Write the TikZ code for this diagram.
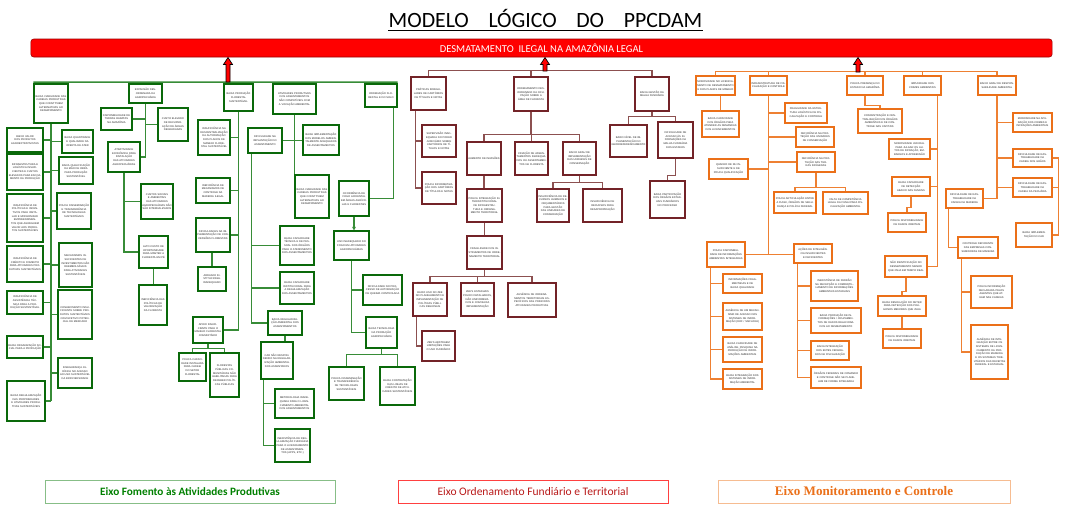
\documentclass[tikz,border=0pt]{standalone}
\usepackage{fontspec}
\setmainfont{Liberation Sans}
\newfontfamily\boxff{Liberation Sans}
\newfontfamily\calff{Carlito}
\newfontfamily\serff{Liberation Serif}
\usetikzlibrary{shadows,calc,arrows.meta}
\pgfdeclarelayer{bg}
\pgfdeclarelayer{paper}
\pgfsetlayers{paper,bg,main}
\definecolor{gdark}{RGB}{10,105,10}
\definecolor{glight}{RGB}{135,190,135}
\definecolor{gline}{RGB}{55,140,55}
\definecolor{rdark}{RGB}{115,35,40}
\definecolor{rlight}{RGB}{195,155,155}
\definecolor{rline}{RGB}{140,80,80}
\definecolor{odark}{RGB}{235,112,25}
\definecolor{olight}{RGB}{246,188,145}
\definecolor{oline}{RGB}{238,128,50}
\definecolor{gtext}{RGB}{0,128,0}
\definecolor{rtext}{RGB}{185,25,25}
\newcommand{\boxfont}{\boxff\fontsize{1.85}{2.6}\selectfont}
\newcommand{\bx}[7]{%
  \pgfmathsetmacro{\bxw}{(#5-#3)*0.025}%
  \pgfmathsetmacro{\bxh}{(#6-#4)*0.025}%
  \pgfmathsetmacro{\bxt}{(#5-#3-2.5)*0.025}%
  \node[#1, minimum width=\bxw cm, minimum height=\bxh cm, text width=\bxt cm] (#2) at ({(#3+#5)/2},{(#4+#6)/2}) {#7};%
}
\newcommand{\uparr}[3]{%
  \draw[fill=red, draw=black, line width=0.5pt, line join=miter] ({#1-2},{#2}) -- ({#1-2},{#3+7}) -- ({#1-4.5},{#3+7}) -- ({#1},{#3}) -- ({#1+4.5},{#3+7}) -- ({#1+2},{#3+7}) -- ({#1+2},{#2}) -- cycle;%
}
\tikzset{
  bxbase/.style={inner sep=0pt, align=center, font=\boxfont, text=black!85, fill=white, line width=0.8pt},
  gb/.style={bxbase, draw=gdark, drop shadow={shadow xshift=0.9pt, shadow yshift=-0.9pt, fill=glight, opacity=1}},
  rb/.style={bxbase, draw=rdark, drop shadow={shadow xshift=0.9pt, shadow yshift=-0.9pt, fill=rlight, opacity=1}},
  ob/.style={bxbase, draw=odark, drop shadow={shadow xshift=0.9pt, shadow yshift=-0.9pt, fill=olight, opacity=1}},
  gl/.style={draw=gline, line width=1pt},
  rl/.style={draw=rline, line width=1pt},
  ol/.style={draw=oline, line width=1pt},
}
\begin{document}
\begin{tikzpicture}[x=0.025cm,y=-0.025cm]
\begin{pgfonlayer}{paper}
\fill[white] (0,0) rectangle (1067,516);
\end{pgfonlayer}
\useasboundingbox (0,0) rectangle (1067,516);

% title and bar
\node[inner sep=0pt, anchor=base] (title) at (545.5,27) {\calff\fontsize{15.5}{18}\selectfont MODELO\hspace{0.9em}LÓGICO\hspace{0.9em}DO\hspace{0.9em}PPCDAM};
\draw[line width=0.8pt] ([yshift=-2.6pt]title.base west) -- ([yshift=-2.6pt]title.base east);
\node[fill=red, draw=red!60!black, line width=0.4pt, rounded corners=2pt, minimum width=25.525cm, minimum height=0.45cm, inner sep=0pt, text=white, font=\calff\fontsize{7.5}{9}\selectfont] (bar) at (541.5,48) {DESMATAMENTO\ \ ILEGAL NA AMAZÔNIA LEGAL};

% ================= GREEN =================
\bx{gb}{G1}{34}{84}{68}{123}{BAIXA VIABILIDADE DAS CADEIAS PRODUTIVAS QUE CONSTITUEM ALTERNATIVAS AO DESMATAMENTO}
\bx{gb}{GL1}{7}{128}{43}{152}{BAIXO VALOR DOS PRODUTOS AGROEXTRATIVISTAS}
\bx{gb}{GL2}{7}{154}{43}{190}{INFRAESTRUTURA E LOGÍSTICA INSUFICIENTES E CUSTOS ELEVADOS PARA ESCOAMENTO DA PRODUÇÃO}
\bx{gb}{GL3}{7}{194}{43}{242}{INSUFICIÊNCIA DE POLÍTICAS E INCENTIVOS PARA INSTALAR E MODERNIZAR EMPREENDIMENTOS QUE AGREGUEM VALOR AOS PRODUTOS SUSTENTÁVEIS}
\bx{gb}{GL4}{7}{246}{43}{282}{INSUFICIÊNCIA DE CRÉDITO E FOMENTO PARA ATIVIDADES PRODUTIVAS SUSTENTÁVEIS}
\bx{gb}{GL5}{7}{291}{43}{314}{INSUFICIÊNCIA DE ASSISTÊNCIA TÉCNICA PARA A PRODUÇÃO SUSTENTÁVEL}
\bx{gb}{GL6}{7}{336}{43}{358}{BAIXA ORGANIZAÇÃO SOCIAL PARA A PRODUÇÃO}
\bx{gb}{GL7}{7}{381}{45}{421}{BAIXA REGULARIZAÇÃO DAS PROPRIEDADES E ATIVIDADES PRODUTIVAS SUSTENTÁVEIS}
\bx{gb}{GR1}{62}{130}{93}{153}{BAIXA QUANTIDADE E QUALIDADE NA OFERTA DE ATER}
\bx{gb}{GR2}{59}{157}{93}{184}{BAIXA QUALIFICAÇÃO DA MÃO DE OBRA PARA PRODUÇÃO SUSTENTÁVEL}
\bx{gb}{GR3}{57}{193}{91}{229}{POUCA DISSEMINAÇÃO E TRANSFERÊNCIA DE TECNOLOGIAS SUSTENTÁVEIS}
\bx{gb}{GR4}{59}{243}{92}{287}{MECANISMOS INSUFICIENTES DE INVESTIMENTOS NÃO REEMBOLSÁVEIS PARA ATIVIDADES SUSTENTÁVEIS}
\bx{gb}{GR5}{58}{290}{92}{339}{CONHECIMENTO INSUFICIENTE SOBRE PRODUTOS SUSTENTÁVEIS COM EFETIVO POTENCIAL DE MERCADO}
\bx{gb}{GR6}{58}{358}{92}{388}{INSEGURANÇA JURÍDICA NO ACESSO AO USO SUSTENTÁVEL DA BIODIVERSIDADE}

\bx{gb}{G2}{129}{84}{162}{103}{EXPANSÃO DESORDENADA DA AGROPECUÁRIA}
\bx{gb}{G2a}{101}{108}{132}{130}{DISPONIBILIDADE DE TERRAS BARATAS NA AMAZÔNIA}
\bx{gb}{G2b}{158}{108}{188}{141}{CUSTO ELEVADO DE RECUPERAÇÃO DE ÁREAS DEGRADADAS}
\bx{gb}{G2c}{108}{142}{140}{172}{ATRATIVIDADE ECONÔMICA PARA INSTALAÇÃO DAS ATIVIDADES AGROPECUÁRIAS}
\bx{gb}{G2d}{141}{184}{173}{219}{CUSTOS SOCIAIS E AMBIENTAIS DAS ATIVIDADES AGROPECUÁRIAS NÃO SÃO INTERNALIZADOS}
\bx{gb}{G2e}{139}{236}{168}{268}{ALTO CUSTO DE OPORTUNIDADE PARA MANTER A FLORESTA EM PÉ}
\bx{gb}{G2f}{139}{285}{167}{325}{INEFICIÊNCIA DAS POLÍTICAS DE VALORIZAÇÃO DA FLORESTA}

\bx{gb}{G3}{224}{84}{253}{111}{BAIXA PRODUÇÃO FLORESTAL SUSTENTÁVEL}
\bx{gb}{G3a}{198}{120}{230}{155}{INSUFICIÊNCIA NA DESCENTRALIZAÇÃO DA AUTORIZAÇÃO DOS PLANOS DE MANEJO FLORESTAL SUSTENTÁVEL}
\bx{gb}{G3b}{196}{178}{230}{203}{INEFICIÊNCIA DE MECANISMOS DE CONTROLE DA MADEIRA ILEGAL}
\bx{gb}{G3c}{196}{218}{230}{252}{DIFICULDADES NA IMPLEMENTAÇÃO DE CONCESSÕES FLORESTAIS}
\bx{gb}{G3d}{198}{267}{226}{291}{ARRANJO INSTITUCIONAL INADEQUADO}
\bx{gb}{G3e}{193}{317}{223}{343}{APOIO INSUFICIENTE PARA O MANEJO FLORESTAL COMUNITÁRIO}
\bx{gb}{G3f}{179}{353}{206}{381}{POUCA CAPACIDADE INSTALADA PARA CADEIA DO SETOR FLORESTAL}
\bx{gb}{G3g}{210}{353}{239}{397}{FLORESTAS PÚBLICAS COMUNITÁRIAS NÃO HABILITADAS PARA RECEBER POLÍTICAS PÚBLICAS}

\bx{gb}{G4}{273}{84}{316}{114}{ATIVIDADES PRODUTIVAS DOS ASSENTAMENTOS NÃO COMPATÍVEIS COM A VOCAÇÃO AMBIENTAL}
\bx{gb}{G4a}{248}{128}{282}{153}{DIFICULDADE NA IMPLANTAÇÃO DO ASSENTAMENTO}
\bx{gb}{G4b}{303}{125}{339}{155}{BAIXA IMPLEMENTAÇÃO DOS MODELOS AMBIENTALMENTE ADEQUADOS DE ASSENTAMENTOS}
\bx{gb}{G4c}{295}{175}{329}{218}{BAIXA VIABILIDADE DAS CADEIAS PRODUTIVAS QUE CONSTITUEM ALTERNATIVAS AO DESMATAMENTO}
\bx{gb}{G4d}{280}{226}{314}{265}{BAIXA CAPACIDADE TÉCNICA E DE PESSOAL DOS ÓRGÃOS PARA O ATENDIMENTO DOS ASSENTAMENTOS}
\bx{gb}{G4e}{280}{272}{314}{304}{BAIXA CAPACIDADE INSTITUCIONAL PARA A REGULARIZAÇÃO DOS ASSENTAMENTOS}
\bx{gb}{G4f}{268}{311}{302}{335}{BAIXA REGULARIZAÇÃO AMBIENTAL DOS ASSENTAMENTOS}
\bx{gb}{G4g}{261}{342}{293}{379}{CAR NÃO RESPONDENDO NA REGULARIZAÇÃO AMBIENTAL DOS ASSENTADOS}
\bx{gb}{G4h}{275}{389}{314}{418}{METODOLOGIA INADEQUADA PARA O LICENCIAMENTO AMBIENTAL DOS ASSENTAMENTOS}
\bx{gb}{G4i}{275}{429}{310}{462}{INEXISTÊNCIA DE REGULARIZAÇÃO FUNDIÁRIA PARA O LICENCIAMENTO DE ASSENTAMENTOS (APPS, ETC.)}

\bx{gb}{G5}{365}{84}{397}{107}{ORDENAÇÃO FLORESTAL E DO SOLO}
\bx{gb}{G5a}{339}{181}{369}{216}{OCORRÊNCIA DE FOGO ACIDENTAL EM ÁREAS AGRÍCOLAS E FLORESTAIS}
\bx{gb}{G5b}{334}{231}{369}{260}{USO INADEQUADO DO FOGO EM ATIVIDADES AGROPECUÁRIAS}
\bx{gb}{G5c}{363}{275}{402}{305}{DIFICULDADE NO PROCESSO DE AUTORIZAÇÃO DE QUEIMA CONTROLADA}
\bx{gb}{G5d}{366}{317}{397}{348}{BAIXA TECNOLOGIA NA PRODUÇÃO AGROPECUÁRIA}
\bx{gb}{G5e}{329}{367}{364}{400}{POUCA DISSEMINAÇÃO E TRANSFERÊNCIA DE TECNOLOGIAS SUSTENTÁVEIS}
\bx{gb}{G5f}{380}{367}{415}{405}{BAIXA CONTRATAÇÃO DAS LINHAS DE CRÉDITO DE ATIVIDADES SUSTENTÁVEIS}

% ================= RED =================
\bx{rb}{R1}{411}{77}{446}{110}{PRÁTICAS IRREGULARES DE CARTÓRIOS DE TÍTULOS E NOTAS}
\bx{rb}{R1a}{422}{125}{456}{157}{SUPERVISÃO INADEQUADA DO PODER JUDICIÁRIO SOBRE CARTÓRIOS DE TÍTULOS E NOTAS}
\bx{rb}{R1b}{422}{172}{456}{204}{POUCA INFORMATIZAÇÃO DOS CARTÓRIOS DE TÍTULOS E NOTAS}
\bx{rb}{R2}{514}{77}{548}{111}{ORDENAMENTO DESORDENADO DA OCUPAÇÃO SOBRE A ÁREA DE FLORESTA}
\bx{rb}{R2a}{467}{142}{501}{175}{AUMENTO DE INVASÕES}
\bx{rb}{R2b}{515}{142}{548}{175}{CRIAÇÃO DE ASSENTAMENTOS INADEQUADOS OU ASSENTAMENTOS NA FLORESTA}
\bx{rb}{R2c}{563}{142}{596}{175}{BAIXO GRAU DE IMPLEMENTAÇÃO DAS UNIDADES DE CONSERVAÇÃO}
\bx{rb}{R2d}{467}{189}{502}{222}{POUCA INTEGRAÇÃO INTERINSTITUCIONAL DE INFRAESTRUTURA E ORDENAMENTO TERRITORIAL}
\bx{rb}{R2e}{467}{236}{502}{269}{FRAGILIDADE DOS INSTRUMENTOS DE ORDENAMENTO TERRITORIAL}
\bx{rb}{R2f}{413}{283}{447}{316}{BAIXO USO DO ZEE NO PLANEJAMENTO E IMPLEMENTAÇÃO DE POLÍTICAS PÚBLICAS REGIONAIS}
\bx{rb}{R2g}{461}{283}{494}{316}{ZEE'S ESTADUAIS POUCO DETALHADOS, NÃO UNIFORMIZADOS E COM BAIXA IMPLEMENTAÇÃO}
\bx{rb}{R2h}{508}{283}{556}{317}{AUSÊNCIA DE ORDENAMENTOS TERRITORIAIS ESPECÍFICOS DAS PRINCIPAIS ATIVIDADES PRODUTIVAS}
\bx{rb}{R2i}{422}{331}{455}{361}{ZEE'S ABSTRAEM LIMITAÇÕES PARA O USO FUNDIÁRIO}
\bx{rb}{R2j}{537}{189}{569}{222}{INSUFICIÊNCIA DE RECURSOS HUMANOS E ORÇAMENTÁRIOS PARA GESTÃO DAS UNIDADES DE CONSERVAÇÃO}
\bx{rb}{R2k}{583}{189}{622}{222}{INSUFICIÊNCIA DE RECURSOS PARA DESAPROPRIAÇÃO}
\bx{rb}{R3}{635}{77}{669}{111}{BAIXA GESTÃO DA MALHA FUNDIÁRIA}
\bx{rb}{R3a}{610}{125}{647}{157}{BAIXO NÍVEL DE IMPLEMENTAÇÃO DO GEORREFERENCIAMENTO}
\bx{rb}{R3b}{658}{122}{693}{158}{DIFICULDADE DE ACESSO ÀS INFORMAÇÕES DA MALHA FUNDIÁRIA DOS ESTADOS}
\bx{rb}{R3c}{650}{181}{685}{218}{BAIXA PARTICIPAÇÃO DOS ÓRGÃOS ESTADUAIS FUNDIÁRIOS NO PROCESSO}

% ================= ORANGE =================
\bx{ob}{O1}{696}{76}{735}{95}{MOROSIDADE NO LICENCIAMENTO DE DESMATAMENTO E DOS PLANOS DE MANEJO}
\bx{ob}{O1a}{702}{111}{739}{137}{BAIXA CAPACIDADE DOS ÓRGÃOS PARA ATENDER AS DEMANDAS DOS LICENCIAMENTOS}
\bx{ob}{O2}{750}{76}{787}{95}{INFRAESTRUTURA DE FISCALIZAÇÃO E CONTROLE}
\bx{ob}{O2a}{785}{103}{827}{123}{FRAGILIDADE DA ESTRUTURA LOGÍSTICA DE FISCALIZAÇÃO E CONTROLE}
\bx{ob}{O2b}{796}{127}{834}{147}{DEFICIÊNCIA NA PROTEÇÃO DAS UNIDADES DE CONSERVAÇÃO}
\bx{ob}{O2c}{797}{152}{835}{172}{DEFICIÊNCIA NA PROTEÇÃO DAS TERRAS INDÍGENAS}
\bx{ob}{O2d}{709}{159}{748}{179}{QUADRO DE RH INSUFICIENTE E DE POUCA QUALIFICAÇÃO}
\bx{ob}{O2e}{774}{192}{816}{213}{POUCA ARTICULAÇÃO ENTRE A FUNAI, ÓRGÃOS DE SEGURANÇA E POLÍCIA FEDERAL}
\bx{ob}{O2f}{823}{192}{868}{214}{FALTA DE COMPETÊNCIA LEGAL DA FUNAI PARA FISCALIZAÇÃO AMBIENTAL}
\bx{ob}{O2g}{707}{242}{745}{267}{POUCA DISPONIBILIDADE DE INFORMAÇÕES AMBIENTAIS INTEGRADAS}
\bx{ob}{O2h}{794}{244}{832}{263}{AÇÕES DE INTELIGÊNCIA INSUFICIENTES E DEFICIENTES}
\bx{ob}{O2i}{723}{274}{762}{293}{INFORMAÇÕES FRAGMENTADAS E DE BAIXA QUALIDADE}
\bx{ob}{O2j}{723}{303}{762}{330}{AUSÊNCIA DE UM MECANISMO DE ACESSO DOS SISTEMAS DE INFORMAÇÃO (DOF / SISFLORA)}
\bx{ob}{O2k}{723}{337}{762}{362}{BAIXA CAPACIDADE DE ANÁLISE, PESQUISA NA PRODUÇÃO DE INFORMAÇÕES AMBIENTAIS}
\bx{ob}{O2l}{723}{369}{762}{389}{BAIXA INTEGRAÇÃO DOS SISTEMAS DE INFORMAÇÃO AMBIENTAL}
\bx{ob}{O2m}{811}{271}{858}{301}{INEXISTÊNCIA DE PADRÃO NA RECEPÇÃO E COMPARTILHAMENTO DE INFORMAÇÕES AMBIENTAIS ESTADUAIS}
\bx{ob}{O2n}{811}{308}{861}{333}{BAIXA PRODUÇÃO DE INFORMAÇÕES / CRUZAMENTOS DE DADOS RELACIONADOS AO DESMATAMENTO}
\bx{ob}{O2o}{811}{341}{849}{360}{BAIXA INTEGRAÇÃO DOS ENTES FEDERADOS NA FISCALIZAÇÃO}
\bx{ob}{O2p}{811}{367}{861}{388}{ÓRGÃOS FEDERAIS DE COMANDO E CONTROLE NÃO SE PLANEJAM DE FORMA INTEGRADA}
\bx{ob}{O3}{847}{76}{883}{95}{POUCA PRESENÇA DO ESTADO NA AMAZÔNIA}
\bx{ob}{O3a}{858}{109}{902}{133}{CONCENTRAÇÃO E CENTRALIZAÇÃO DOS ÓRGÃOS AMBIENTAIS E DE CONTROLE NAS CAPITAIS}
\bx{ob}{O4}{904}{76}{941}{95}{IMPUNIDADE DOS CRIMES AMBIENTAIS}
\bx{ob}{O4a}{889}{139}{930}{159}{MOROSIDADE JUDICIAL PARA JULGAR OS AUTOS DE INFRAÇÃO, EMBARGOS E APREENSÃO}
\bx{ob}{O4b}{892}{177}{930}{196}{BAIXA CAPACIDADE DE DETECÇÃO ABAIXO DAS NUVENS}
\bx{ob}{O4c}{888}{213}{926}{232}{POUCA DISPONIBILIDADE DE DADOS ORBITAIS}
\bx{ob}{O4d}{885}{256}{927}{277}{NÃO IDENTIFICAÇÃO DO DESMATAMENTO MENOR QUE 25HA EM TEMPO REAL}
\bx{ob}{O4e}{878}{296}{926}{316}{BAIXA RESOLUÇÃO DO DETER PARA DETECÇÃO DOS POLÍGONOS MENORES QUE 25HA}
\bx{ob}{O4f}{883}{329}{921}{348}{POUCA DISPONIBILIDADE DE DADOS ORBITAIS}
\bx{ob}{O5}{978}{76}{1016}{95}{BAIXO GRAU DE RESPONSABILIDADE AMBIENTAL}
\bx{ob}{O5a}{1013}{113}{1052}{132}{MOROSIDADE NA APURAÇÃO DOS CRIMES E INFRAÇÕES AMBIENTAIS}
\bx{ob}{O5b}{1013}{149}{1052}{167}{DIFICULDADE DE RASTREABILIDADE DA CADEIA DOS GRÃOS}
\bx{ob}{O5c}{1013}{178}{1052}{197}{DIFICULDADE DE RASTREABILIDADE DA CADEIA DA PECUÁRIA}
\bx{ob}{O5d}{946}{189}{983}{208}{DIFICULDADE DE RASTREABILIDADE DA CADEIA DA MADEIRA}
\bx{ob}{O5e}{1016}{223}{1052}{247}{BAIXA IMPLEMENTAÇÃO DO CAR}
\bx{ob}{O5f}{958}{237}{998}{258}{CONTROLE DEFICIENTE DAS EMPRESAS CONSUMIDORAS DE MADEIRA}
\bx{ob}{O5g}{971}{276}{1012}{308}{POUCA INFORMAÇÃO DECLARADA PELOS AGENTES QUE ATUAM NAS CADEIAS}
\bx{ob}{O5h}{971}{325}{1008}{379}{AUSÊNCIA DE INTEGRAÇÃO ENTRE OS SISTEMAS DE LICENCIAMENTO DA PRODUÇÃO DE MADEIRA E OS SISTEMAS TRIBUTÁRIOS DAS RECEITAS FEDERAL E ESTADUAL}

% ================= axis labels =================
\node[draw=glight, line width=0.5pt, minimum width=7.25cm, minimum height=0.575cm, inner sep=0pt, text=gtext, font=\calff\bfseries\fontsize{8}{9.5}\selectfont] (axG) at (190,491.5) {Eixo Fomento às Atividades Produtivas};
\node[draw=red!75, line width=0.5pt, minimum width=6.75cm, minimum height=0.575cm, inner sep=0pt, text=rtext, font=\calff\fontsize{8.2}{9.5}\selectfont] (axR) at (533,491.5) {Eixo Ordenamento Fundiário e Territorial};
\node[draw=olight, line width=0.5pt, minimum width=7.3cm, minimum height=0.575cm, inner sep=0pt, text=odark, font=\serff\bfseries\fontsize{9.3}{11}\selectfont] (axO) at (864,491.5) {Eixo Monitoramento e Controle};

% ================= connectors =================
\begin{pgfonlayer}{bg}
% green
\draw[gl] ([yshift=0.9pt]G1.north west) -- ([yshift=0.9pt]G5.north east);
\draw[gl] (G1.south) -- (G1.south |- GL7.east);
\foreach \n in {GL1,GL2,GL3,GL4,GL5,GL6,GL7} \draw[gl] (\n.east) -- (\n.east -| G1.south);
\foreach \n in {GR1,GR2,GR3,GR4,GR5,GR6} \draw[gl] (\n.west) -- (\n.west -| G1.south);
\draw[gl] (G2.south) -- (G2.south |- G2c.east) -- (G2c.east);
\draw[gl] (G2a.east) -- (G2a.east -| G2.south);
\draw[gl] (G2b.west) -- (G2b.west -| G2.south);
\draw[gl] (G2c.south) -- (G2c.south |- G2e.west) -- (G2e.west);
\draw[gl] (G2d.west) -- (G2d.west -| G2c.south);
\draw[gl] (G2e.south) -- (G2e.south |- G2f.north);
\draw[gl] (G3.south) -- (G3.south |- G3e.east) -- (G3e.east);
\foreach \n in {G3a,G3b,G3c} \draw[gl] (\n.east) -- (\n.east -| G3.south);
\draw[gl] (G3d.north |- G3c.south) -- (G3d.north);
\coordinate (j3) at ($(G3f.north)+(0,-4)$);
\draw[gl] (G3f.north) -- (j3) -| (G3g.north);
\draw[gl] (G3e.south) -- (G3e.south |- j3);
\draw[gl] (G4.south) -- (G4.south |- G4c.north);
\draw[gl] (G4a.east) -- (G4a.east -| G4b.west);
\coordinate (g4t) at ($(G4a.south west)+(4,0)$);
\draw[gl] (g4t) |- (G4f.west);
\foreach \n in {G4d,G4e} \draw[gl] (\n.west) -- (\n.west -| g4t);
\draw[gl] (G4f.south) -- (G4f.south |- G4g.north);
\coordinate (g4u) at ($(G4g.south west)+(3,0)$);
\draw[gl] (g4u) |- (G4i.west);
\draw[gl] (G4h.west) -- (G4h.west -| g4u);
\coordinate (g5t) at ($(G5.south east)+(-4,0)$);
\draw[gl] (g5t) |- (G5a.east);
\draw[gl, -{Triangle[length=2.5pt,width=2.5pt]}] (G5a.south) -- (G5a.south |- G5b.north);
\draw[gl] (G5b.south) -- (G5b.south |- G5d.west) -- (G5d.west);
\draw[gl] (G5c.west) -- (G5c.west -| G5b.south);
\coordinate (j5) at ($(G5e.north)+(0,-12)$);
\draw[gl] (G5e.north) -- (j5) -| (G5f.north);
\draw[gl] (G5d.south) -- (G5d.south |- j5);
% red
\coordinate (rbl) at ($(R1.north)+(0,-6)$);
\coordinate (rbr) at ($(R3.north)+(0,-6)$);
\draw[rl] (R1.north) -- (rbl) -- (rbr) -- (R3.north);
\draw[rl] (R2.north) -- (R2.north |- rbl);
\coordinate (r1t) at ($(R1.south west)+(5,0)$);
\draw[rl] (r1t) |- (R1b.west);
\draw[rl] (R1a.west) -- (R1a.west -| r1t);
\coordinate (r2j) at ($(R2a.north)+(0,-7)$);
\draw[rl] (R2a.north) -- (r2j) -| (R2c.north);
\draw[rl] (R2.south) -- (R2.south |- r2j);
\draw[rl] (R2b.north) -- (R2b.north |- r2j);
\draw[rl] (R2a.south) -- (R2a.south |- R2d.north);
\draw[rl] (R2d.south) -- (R2d.south |- R2e.north);
\coordinate (r2k) at ($(R2f.north)+(0,-6)$);
\draw[rl] (R2f.north) -- (r2k) -| (R2h.north);
\draw[rl] (R2e.south) -- (R2e.south |- r2k);
\draw[rl] (R2g.north) -- (R2g.north |- r2k);
\coordinate (r2l) at ($(R2f.south west)+(4,0)$);
\draw[rl] (r2l) |- (R2i.west);
\coordinate (r2m) at ($(R2j.north)+(0,-6)$);
\draw[rl] (R2j.north) -- (r2m) -| (R2k.north);
\draw[rl] (R2c.south) -- (R2c.south |- r2m);
\coordinate (r3j) at ($(R3a.north)+(0,-8)$);
\draw[rl] (R3a.north) -- (r3j) -| (R3b.north);
\draw[rl] (R3.south) -- (R3.south |- r3j);
\draw[rl] (R3b.south) -- ++(0,17) -| (R3c.north);
% orange
\coordinate (obl) at ($(O1.north)+(0,-4)$);
\coordinate (obr) at ($(O5.north)+(0,-4)$);
\draw[ol] (O1.north) -- (obl) -- (obr) -- (O5.north);
\foreach \n in {O2,O3,O4} \draw[ol] (\n.north) -- (\n.north |- obl);
\draw[ol] (O1a.north) -- (O1a.north |- O1.south);
\draw[ol] (O2.south) -- (O2.south |- O2g.east);
\draw[ol] (O2g.east) -- (O2g.east -| O2h.west);
\foreach \n in {O2a,O2b,O2c} \draw[ol] (\n.west) -- (\n.west -| O2.south);
\draw[ol] (O2d.east) -- (O2d.east -| O2.south);
\coordinate (o2j) at ($(O2e.north)+(0,-4)$);
\draw[ol] (O2e.north) -- (o2j) -| (O2f.north);
\draw[ol] (O2c.south) -- (O2c.south |- o2j);
\coordinate (o2t) at ($(O2g.south west)+(4,0)$);
\draw[ol] (o2t) |- (O2l.west);
\foreach \n in {O2i,O2j,O2k} \draw[ol] (\n.west) -- (\n.west -| o2t);
\coordinate (o2u) at ($(O2h.south west)+(4,0)$);
\draw[ol] (o2u) |- (O2p.west);
\foreach \n in {O2m,O2n,O2o} \draw[ol] (\n.west) -- (\n.west -| o2u);
\draw[ol] (O3.south) -- ++(0,10) -| (O3a.north);
\coordinate (o4t) at ($(O4.south east)+(-4,0)$);
\draw[ol] (o4t) |- (O4d.east);
\foreach \n in {O4a,O4b} \draw[ol] (\n.east) -- (\n.east -| o4t);
\draw[ol] (O4b.south) -- ++(0,11) -| (O4c.north);
\draw[ol] (O4d.south) -- ++(0,14) -| (O4e.north);
\draw[ol] (O4e.south) -- (O4e.south |- O4f.north);
\draw[ol] (O5.south) |- (O5d.east);
\foreach \n in {O5a,O5b,O5c} \draw[ol] (\n.west) -- (\n.west -| O5.south);
\draw[ol] (O5b.east) -- ++(6,0) |- (O5e.east);
\draw[ol] (O5c.east) -- ++(6,0);
\coordinate (o5t) at ($(O5d.south west)+(3,0)$);
\draw[ol] (o5t) |- (O5f.west);
\coordinate (o5u) at ($(O5f.south west)+(4,0)$);
\draw[ol] (o5u) |- (O5h.west);
\draw[ol] (O5g.west) -- (O5g.west -| o5u);
\end{pgfonlayer}

% arrows to the problem bar
\uparr{228}{82}{57.5}
\uparr{545}{71}{57.5}
\uparr{858}{72}{57.5}
\end{tikzpicture}
\end{document}
